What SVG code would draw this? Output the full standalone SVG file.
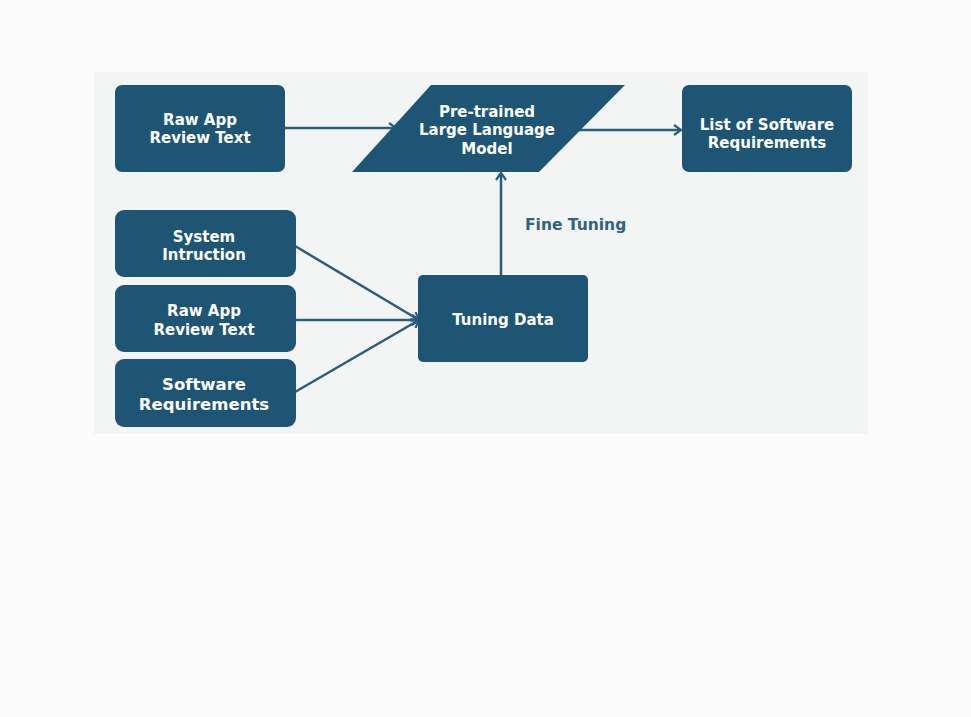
<svg xmlns="http://www.w3.org/2000/svg" width="971" height="717" viewBox="0 0 971 717">
<style>
.node{fill:#1e5575;}
.lbl{font-family:"DejaVu Sans","Open Sans",sans-serif;font-weight:700;font-size:15px;fill:#ffffff;text-anchor:middle;}
.edge{stroke:#2a5c7c;stroke-width:2.5;fill:none;}
.ft{font-family:"DejaVu Sans","Open Sans",sans-serif;font-weight:700;font-size:15.5px;fill:#2f6383;}
</style>
<defs>
<marker id="ah" markerUnits="userSpaceOnUse" markerWidth="14" markerHeight="14" refX="9" refY="6" orient="auto">
<path d="M2,1 L9,6 L2,11" fill="none" stroke="#2a5c7c" stroke-width="2.2"/>
</marker>
</defs>
<rect x="0" y="0" width="971" height="717" fill="#fbfbfb"/>
<rect x="94" y="72" width="774" height="362" fill="#f3f4f4"/>
<g id="edges">
<line class="edge" x1="284" y1="128" x2="396" y2="128" marker-end="url(#ah)"/>
<line class="edge" x1="578" y1="130" x2="681" y2="130" marker-end="url(#ah)"/>
<line class="edge" x1="501" y1="275" x2="501" y2="173" marker-end="url(#ah)"/>
<line class="edge" x1="295" y1="246" x2="419" y2="320" marker-end="url(#ah)"/>
<line class="edge" x1="295" y1="320" x2="419" y2="320" marker-end="url(#ah)"/>
<line class="edge" x1="295" y1="392" x2="419" y2="320" marker-end="url(#ah)"/>
</g>
<g id="n-raw1">
<rect class="node" x="115" y="85" width="170" height="87" rx="7"/>
<text class="lbl" x="200" y="124.5">Raw App</text>
<text class="lbl" x="200" y="143">Review Text</text>
</g>
<g id="n-llm">
<polygon class="node" points="431,85 625,85 539,172 352,172"/>
<text class="lbl" x="487" y="116.5">Pre-trained</text>
<text class="lbl" x="487" y="135">Large Language</text>
<text class="lbl" x="487" y="153.5">Model</text>
</g>
<g id="n-list">
<rect class="node" x="682" y="85" width="170" height="87" rx="7"/>
<text class="lbl" x="767" y="129.5">List of Software</text>
<text class="lbl" x="767" y="148">Requirements</text>
</g>
<g id="n-sys">
<rect class="node" x="115" y="210" width="181" height="67" rx="9"/>
<text class="lbl" x="204" y="241.5">System</text>
<text class="lbl" x="204" y="260">Intruction</text>
</g>
<g id="n-raw2">
<rect class="node" x="115" y="285" width="181" height="67" rx="9"/>
<text class="lbl" x="204" y="316">Raw App</text>
<text class="lbl" x="204" y="334.5">Review Text</text>
</g>
<g id="n-sw">
<rect class="node" x="115" y="359" width="181" height="68" rx="9"/>
<text class="lbl" x="204" y="390" style="font-size:16.5px">Software</text>
<text class="lbl" x="204" y="409.5" style="font-size:16.5px">Requirements</text>
</g>
<g id="n-tune">
<rect class="node" x="418" y="275" width="170" height="87" rx="5"/>
<text class="lbl" x="503" y="325">Tuning Data</text>
</g>
<text class="ft" x="525" y="230">Fine Tuning</text>
</svg>
